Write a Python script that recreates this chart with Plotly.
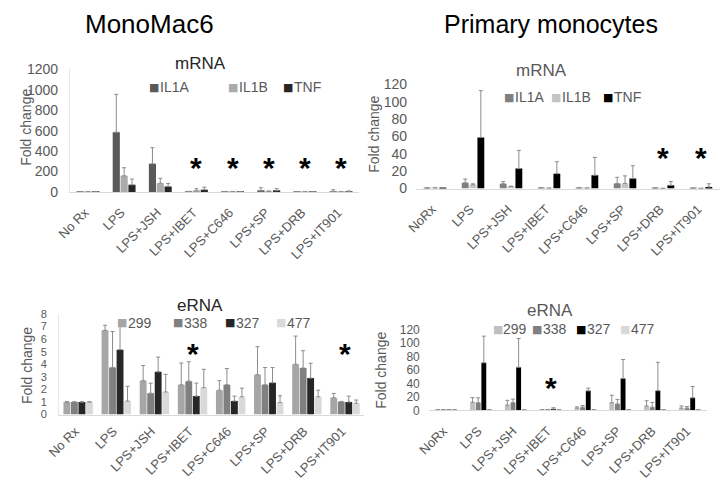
import plotly.graph_objects as go

W, H = 721, 502
FONT = "Liberation Sans, Arial, sans-serif"
TICKC = "#595959"

# ---------------- data ----------------
cats_mm = ["No Rx", "LPS", "LPS+JSH", "LPS+IBET", "LPS+C646", "LPS+SP", "LPS+DRB", "LPS+IT901"]
cats_pm = ["NoRx", "LPS", "LPS+JSH", "LPS+IBET", "LPS+C646", "LPS+SP", "LPS+DRB", "LPS+IT901"]

mrna_names = ["IL1A", "IL1B", "TNF"]
erna_names = ["299", "338", "327", "477"]

# MonoMac6 mRNA (fold change) and upper error
mm_il1a = [2, 585, 275, 5, 2, 10, 2, 3]
mm_il1a_err = [0, 370, 158, 0, 0, 31, 0, 19]
mm_il1b = [2, 158, 85, 10, 2, 5, 1, 1]
mm_il1b_err = [0, 79, 48, 22, 0, 5, 0, 0]
mm_tnf = [2, 70, 54, 22, 2, 13, 2, 3]
mm_tnf_err = [0, 56, 28, 25, 0, 19, 0, 7]
mm_mrna_star_cats = ["LPS+IBET", "LPS+C646", "LPS+SP", "LPS+DRB", "LPS+IT901"]
mm_mrna_star_y = 310

# Primary monocytes mRNA
pm_il1a = [0.8, 6.6, 5.5, 1.1, 1.1, 5.9, 0.5, 0.2]
pm_il1a_err = [0, 4.4, 2.5, 0, 0, 7.1, 0, 0]
pm_il1b = [0.8, 4.4, 2.6, 0.3, 0.5, 5.9, 0.1, 0.1]
pm_il1b_err = [0, 1.1, 0, 0, 0, 8.7, 0, 0]
pm_tnf = [0.8, 58.9, 23, 17.2, 15.4, 11.7, 3.7, 1.8]
pm_tnf_err = [0, 54, 21, 13.8, 20.5, 14.6, 4.3, 3.7]
pm_mrna_star_cats = ["LPS+DRB", "LPS+IT901"]
pm_mrna_star_y = 44

# MonoMac6 eRNA
mm_e299 = [1.0, 6.7, 2.7, 2.37, 1.94, 3.17, 4.0, 1.34]
mm_e299_err = [0.02, 0.4, 1.2, 1.73, 0.76, 2.23, 2.24, 0.34]
mm_e338 = [1.0, 3.75, 1.7, 2.66, 2.37, 2.37, 3.7, 1.03]
mm_e338_err = [0.02, 2.85, 0.8, 1.54, 1.29, 1.37, 1.38, 0.02]
mm_e327 = [1.0, 5.16, 3.4, 1.47, 1.08, 2.53, 2.9, 1.0]
mm_e327_err = [0.02, 2.04, 1.17, 1.03, 0.39, 1.21, 1.18, 0.47]
mm_e477 = [1.0, 1.08, 1.8, 2.14, 1.42, 0.95, 1.42, 0.9]
mm_e477_err = [0.02, 1.17, 1.4, 1.46, 0.68, 0.55, 0.52, 0.26]
mm_erna_star_cats = ["LPS+IBET", "LPS+IT901"]
mm_erna_star_y = 5.4

# Primary monocytes eRNA
pm_e299 = [1, 12, 8, 1, 3.4, 11.5, 6.7, 3.4]
pm_e299_err = [0, 7, 7, 0, 1.9, 11.1, 7.7, 3.3]
pm_e338 = [1, 11.5, 11.5, 1, 4.8, 9.6, 4.8, 3.4]
pm_e338_err = [0, 7.2, 5.3, 0, 2.4, 6.7, 7.2, 2.4]
pm_e327 = [1, 70.6, 64, 2, 29, 47.5, 29.3, 18.7]
pm_e327_err = [0, 39.4, 42.6, 2, 4, 27.9, 42, 16.8]
pm_e477 = [1, 1, 1, 1, 1, 1, 1, 1]
pm_e477_err = [0, 0, 0, 0, 0, 0, 0, 0]
pm_erna_star_cats = ["LPS+IBET"]
pm_erna_star_y = 44

# ---------------- styling ----------------
mm_mrna_colors = ["#595959", "#ababab", "#262626"]
pm_mrna_colors = ["#7f7f7f", "#c4c4c4", "#000000"]
mm_erna_colors = ["#a6a6a6", "#808080", "#262626", "#d9d9d9"]
pm_erna_colors = ["#bfbfbf", "#7f7f7f", "#000000", "#d9d9d9"]


def xd(a, b):
    return [a / W, b / W]


def yd(top, bottom):
    return [1 - bottom / H, 1 - top / H]


fig = go.Figure()

panels = [
    dict(ax="", cats=cats_mm, names=mrna_names, colors=mm_mrna_colors,
         vals=[mm_il1a, mm_il1b, mm_tnf], errs=[mm_il1a_err, mm_il1b_err, mm_tnf_err],
         slot=0.217, width=0.198),
    dict(ax="2", cats=cats_pm, names=mrna_names, colors=pm_mrna_colors,
         vals=[pm_il1a, pm_il1b, pm_tnf], errs=[pm_il1a_err, pm_il1b_err, pm_tnf_err],
         slot=0.206, width=0.18),
    dict(ax="3", cats=cats_mm, names=erna_names, colors=mm_erna_colors,
         vals=[mm_e299, mm_e338, mm_e327, mm_e477],
         errs=[mm_e299_err, mm_e338_err, mm_e327_err, mm_e477_err],
         slot=0.197, width=0.18),
    dict(ax="4", cats=cats_pm, names=erna_names, colors=pm_erna_colors,
         vals=[pm_e299, pm_e338, pm_e327, pm_e477],
         errs=[pm_e299_err, pm_e338_err, pm_e327_err, pm_e477_err],
         slot=0.162, width=0.14),
]

for p in panels:
    n = len(p["names"])
    for i, (nm, col, v, e) in enumerate(zip(p["names"], p["colors"], p["vals"], p["errs"])):
        off = -n * p["slot"] / 2 + i * p["slot"] + (p["slot"] - p["width"]) / 2
        fig.add_trace(go.Bar(
            x=p["cats"], y=v, name=nm, marker=dict(color=col, line=dict(width=0)),
            width=p["width"], offset=off, showlegend=False,
            xaxis="x" + p["ax"], yaxis="y" + p["ax"],
            error_y=dict(type="data", array=e, arrayminus=[0] * len(e), symmetric=False,
                         color="#8c8c8c", thickness=1, width=2),
        ))


def yaxis_style(size):
    return dict(showgrid=False, zeroline=False, ticks="", fixedrange=True,
                tickfont=dict(family=FONT, size=size, color=TICKC))


def xaxis_style(standoff):
    return dict(type="category", range=[-0.5, 7.5], showline=True, linecolor="#d9d9d9",
                linewidth=1, showgrid=False, zeroline=False, ticks="", tickangle=-45,
                fixedrange=True, ticklabelstandoff=standoff, ticklabelshift=-3,
                tickfont=dict(family=FONT, size=13, color=TICKC))


layout = dict(
    width=W, height=H, margin=dict(l=0, r=0, t=0, b=0),
    paper_bgcolor="white", plot_bgcolor="white", barmode="overlay",
    font=dict(family=FONT),
    xaxis=dict(xaxis_style(7), domain=xd(57, 352), anchor="y"),
    yaxis=dict(yaxis_style(14), domain=yd(63.3, 190), range=[0, 1200], dtick=200, anchor="x",
               showline=True, linecolor="#e6e6e6", ticklabelstandoff=8),
    xaxis2=dict(xaxis_style(7), domain=xd(410, 720), anchor="y2"),
    yaxis2=dict(yaxis_style(14), domain=yd(79, 186.5), range=[0, 120], dtick=20, anchor="x2",
                showline=False, ticklabelstandoff=8),
    xaxis3=dict(xaxis_style(3), domain=xd(46, 357), anchor="y3"),
    yaxis3=dict(yaxis_style(11), domain=yd(316, 420), range=[0, 8], dtick=1, anchor="x3",
                showline=True, linecolor="#e6e6e6", ticklabelstandoff=9),
    xaxis4=dict(xaxis_style(7), domain=xd(423, 707), anchor="y4"),
    yaxis4=dict(yaxis_style(12), domain=yd(332, 415.7), range=[0, 120], dtick=20, anchor="x4",
                showline=False, ticklabelstandoff=8),
)
fig.update_layout(**layout)

ann = []


def paper_text(x, y, text, size, color="#000000", angle=0, xanchor="center"):
    ann.append(dict(x=x / W, y=1 - y / H, xref="paper", yref="paper", text=text,
                    showarrow=False, xanchor=xanchor, yanchor="middle", textangle=angle,
                    font=dict(family=FONT, size=size, color=color)))


# main titles
paper_text(138, 17, "MonoMac6", 26)
paper_text(548, 17, "Primary monocytes", 25)
# panel titles
paper_text(190, 57, "mRNA", 17, "#262626")
paper_text(538, 65, "mRNA", 17, "#595959")
paper_text(190, 307, "eRNA", 17, "#262626")
paper_text(547, 312, "eRNA", 17, "#595959")
# y titles
paper_text(12, 123, "Fold change", 14, TICKC, -90)
paper_text(367, 130, "Fold change", 14, TICKC, -90)
paper_text(13, 369, "Fold change", 14, TICKC, -90)
paper_text(374, 374, "Fold change", 14, TICKC, -90)

# legends (square + label)
legend_specs = [
    (mrna_names, mm_mrna_colors, [138, 218, 274], 82),
    (mrna_names, pm_mrna_colors, [500, 548, 601], 92),
    (erna_names, mm_erna_colors, [105, 162, 215, 267], 325),
    (erna_names, pm_erna_colors, [488, 528, 573, 618], 332),
]
for names, cols, xs, yy in legend_specs:
    for nm, c, x0 in zip(names, cols, xs):
        ann.append(dict(x=x0 / W, y=1 - yy / H, xref="paper", yref="paper", text="■",
                        showarrow=False, xanchor="left", yanchor="middle",
                        xshift=-2, font=dict(family="DejaVu Sans", size=11, color=c)))
        ann.append(dict(x=(x0 + 9) / W, y=1 - yy / H, xref="paper", yref="paper", text=nm,
                        showarrow=False, xanchor="left", yanchor="middle",
                        font=dict(family=FONT, size=14, color=TICKC)))

# asterisks
star_specs = [("", mm_mrna_star_cats, mm_mrna_star_y), ("2", pm_mrna_star_cats, pm_mrna_star_y),
              ("3", mm_erna_star_cats, mm_erna_star_y), ("4", pm_erna_star_cats, pm_erna_star_y)]
for axn, cs, yv in star_specs:
    for c in cs:
        ann.append(dict(x=c, y=yv, xref="x" + axn, yref="y" + axn, text="<b>*</b>",
                        showarrow=False, xanchor="center", yanchor="middle", yshift=-7,
                        font=dict(family=FONT, size=30, color="#000000")))

fig.update_layout(annotations=ann)
fig.write_html("out.html", config={"displayModeBar": False},
               post_script="document.body.style.margin='0px';")
